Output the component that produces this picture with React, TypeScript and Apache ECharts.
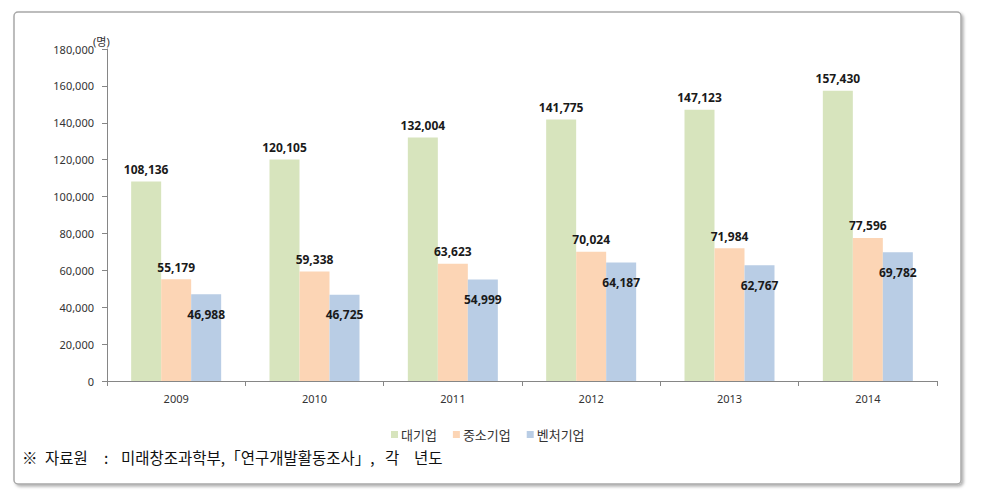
import React, { useEffect, useRef } from "react";
import * as echarts from "echarts";

const years = ["2009", "2010", "2011", "2012", "2013", "2014"];
const seriesNames = ["대기업", "중소기업", "벤처기업"];
const large = [108136, 120105, 132004, 141775, 147123, 157430];
const sme = [55179, 59338, 63623, 70024, 71984, 77596];
const venture = [46988, 46725, 54999, 64187, 62767, 69782];
const colors = ["#d7e4bd", "#fcd5b5", "#b9cde5"];
const unitLabel = "(명)";
const sourceParts = ["※", "자료원", ":", "미래창조과학부,「연구개발활동조사」,", "각", "년도"];

const fmt = (v: number) => v.toLocaleString("en-US");
const FONT = "'Noto Sans', 'Noto Sans CJK KR', sans-serif";
const KFONT = "'Noto Sans CJK KR', sans-serif";

export default function App() {
  const ref = useRef<HTMLDivElement>(null);
  useEffect(() => {
    if (!ref.current) return;
    const chart = echarts.init(ref.current, undefined, { renderer: "svg" });
    const labelBase = {
      show: true,
      fontSize: 12,
      fontWeight: "bold" as const,
      color: "#1a1a1a",
      fontFamily: FONT,
      formatter: (p: any) => fmt(p.value),
    };
    const datasets = [large, sme, venture];
    const sourceX = [22, 45, 104, 121, 385, 414];
    chart.setOption({
      animation: false,
      textStyle: { fontFamily: FONT },
      graphic: [
        {
          type: "rect",
          z: -10,
          shape: { x: 14, y: 12, width: 947, height: 472, r: 4 },
          style: {
            fill: "#ffffff",
            stroke: "#a8a8a8",
            lineWidth: 1.5,
            shadowBlur: 3,
            shadowOffsetX: 2,
            shadowOffsetY: 2,
            shadowColor: "rgba(0,0,0,0.3)",
          },
        },
        {
          type: "text",
          x: 93,
          y: 36,
          style: { text: unitLabel, fontSize: 11, fill: "#333", fontFamily: FONT },
        },
        ...sourceParts.map((t, i) => ({
          type: "text",
          x: sourceX[i],
          y: 449,
          style: { text: t, fontSize: 15.5, fill: "#111", fontFamily: KFONT },
        })),
      ],
      legend: {
        data: seriesNames,
        top: 423,
        left: 386,
        icon: "rect",
        itemWidth: 7,
        itemHeight: 7,
        itemGap: 16,
        textStyle: { fontSize: 13, color: "#333", fontFamily: KFONT, padding: [0, 0, 0, -2] },
      },
      grid: { left: 107, right: 54, top: 49, bottom: 117 },
      xAxis: {
        type: "category",
        data: years,
        axisLine: { lineStyle: { color: "#868686" } },
        axisTick: { show: true, length: 5, lineStyle: { color: "#868686" } },
        axisLabel: { fontSize: 11, color: "#333", margin: 12 },
      },
      yAxis: {
        type: "value",
        min: 0,
        max: 180000,
        interval: 20000,
        axisLine: { show: true, lineStyle: { color: "#868686" } },
        axisTick: { show: true, length: 5, lineStyle: { color: "#868686" } },
        splitLine: { show: false },
        axisLabel: { fontSize: 11, color: "#333", margin: 13, formatter: (v: number) => fmt(v) },
      },
      series: seriesNames.map((name, i) => ({
        name,
        type: "bar",
        data: datasets[i],
        barWidth: 30,
        barGap: "0%",
        itemStyle: { color: colors[i] },
        label:
          i === 2
            ? { ...labelBase, position: "insideTop", distance: 14 }
            : { ...labelBase, position: "top", distance: 6 },
      })),
    });
    return () => chart.dispose();
  }, []);
  return (
    <div style={{ position: "fixed", left: 0, top: 0, width: 991, height: 498, background: "#fff" }}>
      <div ref={ref} style={{ width: 991, height: 498 }} />
    </div>
  );
}
